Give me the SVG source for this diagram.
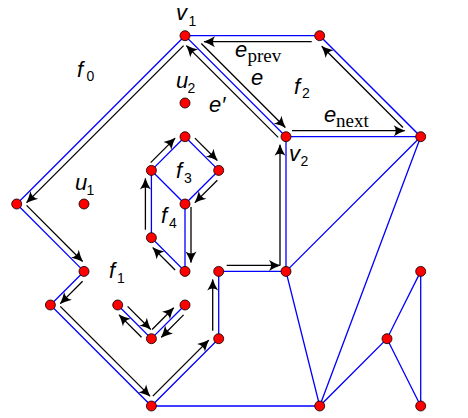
<svg xmlns="http://www.w3.org/2000/svg" width="468" height="418" viewBox="0 0 468 418">
<style>
.e{stroke:#0000ff;stroke-width:1.3;fill:none}
.h{stroke:#000;stroke-width:1.3;fill:none;marker-end:url(#ah)}
.n{fill:#ff0000;stroke:#000;stroke-width:0.8}
.m{font-family:"Liberation Sans","DejaVu Sans",sans-serif;font-style:italic;font-size:22px;fill:#000}
.s{font-style:normal;font-size:14px}
.r{font-family:"Liberation Serif","DejaVu Serif",serif;font-style:normal;font-size:19px}
</style>
<defs>
<marker id="ah" markerUnits="userSpaceOnUse" markerWidth="14" markerHeight="14" refX="0" refY="0" viewBox="-12 -7 14 14" orient="auto" overflow="visible">
<path d="M0.5,0 Q-5,-1.8 -11,-5.5 Q-7,0 -11,5.5 Q-5,1.8 0.5,0 Z" fill="#000"/>
</marker>
</defs>
<g id="edges">
<path class="e" d="M185,35.7 L16.7,204 L84,271.4 L50.4,305 L151.4,406 L218.7,338.7 L218.7,271.4 L286,271.4 L286,136.7 L185,35.7 L319.7,35.7 L420.7,136.7 L286,136.7"/>
<path class="e" d="M420.7,136.7 L286,271.4 L319.7,406 L420.7,136.7"/>
<path class="e" d="M151.4,406 L319.7,406 L387,338.7 L420.7,271.4 L420.7,406 L387,338.7"/>
<path class="e" d="M185,136.7 L218.7,170.4 L185,204 L151.4,170.4 Z M151.4,170.4 L151.4,237.7 L185,271.4 L185,204"/>
<path class="e" d="M117.7,305 L151.4,338.7 L185,305"/>
</g>
<g id="half-edges">
<path class="h" d="M201.3,43.5 L285.3,127.5"/>
<path class="h" d="M292,130.7 L404.7,130.7"/>
<path class="h" d="M403,127.5 L321.8,46.3"/>
<path class="h" d="M311.7,41.7 L204,41.7"/>
<path class="h" d="M183.6,45.6 L26.6,202.6"/>
<path class="h" d="M26.6,205.4 L82.6,261.5"/>
<path class="h" d="M82.6,281.3 L60.3,303.6"/>
<path class="h" d="M60.3,306.4 L150,396.1"/>
<path class="h" d="M152.8,396.1 L208.8,340.1"/>
<path class="h" d="M212.7,330.7 L212.7,279.4"/>
<path class="h" d="M226.7,265.4 L280,265.4"/>
<path class="h" d="M280,265.4 L280,144.7"/>
<path class="h" d="M278.2,137.4 L186.4,45.6"/>
<path class="h" d="M194.9,138.1 L217.3,160.5"/>
<path class="h" d="M217.3,180.3 L194.9,202.6"/>
<path class="h" d="M191,207 L191,262.4"/>
<path class="h" d="M175.1,270 L152.8,247.6"/>
<path class="h" d="M145.4,229.7 L145.4,178.4"/>
<path class="h" d="M150.7,162.6 L175.1,138.1"/>
<path class="h" d="M127.6,306.4 L150.7,329.5"/>
<path class="h" d="M152.1,329.5 L173.7,307.8"/>
<path class="h" d="M183.6,314.9 L161.3,337.3"/>
<path class="h" d="M141.5,337.3 L119.1,314.9"/>
</g>
<g id="nodes">
<circle id="v1" class="n" cx="185" cy="35.7" r="5"/>
<circle id="t" class="n" cx="319.7" cy="35.7" r="5"/>
<circle id="v2" class="n" cx="286" cy="136.7" r="5"/>
<circle id="r" class="n" cx="420.7" cy="136.7" r="5"/>
<circle id="l" class="n" cx="16.7" cy="204" r="5"/>
<circle id="u1" class="n" cx="84" cy="204" r="5"/>
<circle id="u2" class="n" cx="185" cy="103" r="5"/>
<circle id="p" class="n" cx="84" cy="271.4" r="5"/>
<circle id="q" class="n" cx="50.4" cy="305" r="5"/>
<circle id="b" class="n" cx="151.4" cy="406" r="5"/>
<circle id="m" class="n" cx="319.7" cy="406" r="5"/>
<circle id="br" class="n" cx="420.7" cy="406" r="5"/>
<circle id="k" class="n" cx="387" cy="338.7" r="5"/>
<circle id="tr" class="n" cx="420.7" cy="271.4" r="5"/>
<circle id="ee" class="n" cx="286" cy="271.4" r="5"/>
<circle id="d" class="n" cx="218.7" cy="271.4" r="5"/>
<circle id="c" class="n" cx="218.7" cy="338.7" r="5"/>
<circle id="dt" class="n" cx="185" cy="136.7" r="5"/>
<circle id="dl" class="n" cx="151.4" cy="170.4" r="5"/>
<circle id="dr" class="n" cx="218.7" cy="170.4" r="5"/>
<circle id="db" class="n" cx="185" cy="204" r="5"/>
<circle id="hh" class="n" cx="151.4" cy="237.7" r="5"/>
<circle id="g" class="n" cx="185" cy="271.4" r="5"/>
<circle id="w1" class="n" cx="117.7" cy="305" r="5"/>
<circle id="w2" class="n" cx="151.4" cy="338.7" r="5"/>
<circle id="w3" class="n" cx="185" cy="305" r="5"/>
</g>
<g id="labels">
<text class="m" x="176" y="20">v<tspan class="s" x="188.5" y="25.5">1</tspan></text>
<text class="m" x="77" y="77">f<tspan class="s" x="86.5" y="81">0</tspan></text>
<text class="m" x="176" y="88">u<tspan class="s" x="187.5" y="93">2</tspan></text>
<text class="m" x="209" y="112">e′</text>
<text class="m" x="251" y="85">e</text>
<text class="m" x="235" y="57">e<tspan class="r" x="247.5" y="62">prev</tspan></text>
<text class="m" x="294" y="94">f<tspan class="s" x="302" y="98">2</tspan></text>
<text class="m" x="324" y="122">e<tspan class="r" x="336" y="126.5">next</tspan></text>
<text class="m" x="289" y="161">v<tspan class="s" x="300.5" y="166">2</tspan></text>
<text class="m" x="176" y="178">f<tspan class="s" x="184" y="182.5">3</tspan></text>
<text class="m" x="75" y="190">u<tspan class="s" x="86.5" y="194.5">1</tspan></text>
<text class="m" x="161" y="223">f<tspan class="s" x="169" y="228">4</tspan></text>
<text class="m" x="109" y="278">f<tspan class="s" x="117" y="283">1</tspan></text>
</g>
</svg>
